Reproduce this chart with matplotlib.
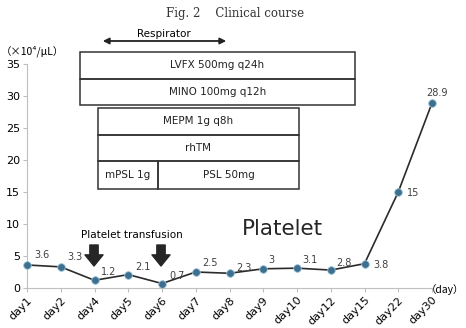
import matplotlib.pyplot as plt
from matplotlib.patches import Rectangle

days = ["day1", "day2", "day4", "day5", "day6", "day7", "day8", "day9",
        "day10", "day12", "day15", "day22", "day30"]
platelet = [3.6, 3.3, 1.2, 2.1, 0.7, 2.5, 2.3, 3, 3.1, 2.8, 3.8, 15, 28.9]
labels = ["3.6", "3.3", "1.2", "2.1", "0.7", "2.5", "2.3", "3", "3.1", "2.8", "3.8", "15", "28.9"]

fig = plt.figure(figsize=(4.66, 3.28), dpi=100)
ax = fig.add_axes([27 / 466, 40 / 328, 405 / 466, 224 / 328])
x = list(range(len(days)))
ax.plot(x, platelet, color="#2b2b2b", lw=1.2, marker="o", ms=5.5,
        mfc="#3d6f8f", mec="#9cc3d8", mew=0.6, zorder=3, clip_on=False)

offs = [(5, 5), (5, 5), (5, 4), (5, 3), (5, 3), (5, 4), (5, 2), (4, 4),
        (4, 4), (4, 3), (6, -3), (6, -3), (-4, 5)]
for i, (v, t) in enumerate(zip(platelet, labels)):
    ax.annotate(t, (i, v), xytext=offs[i], textcoords="offset points",
                fontsize=7, color="#404040")

ax.set_xlim(0, 12)
ax.set_ylim(0, 35)
ax.set_yticks(range(0, 36, 5))
ax.set_xticks(x)
ax.set_xticklabels(days, rotation=45, ha="right", rotation_mode="anchor", fontsize=8)
ax.tick_params(axis="y", labelsize=8, length=3, color="#bfbfbf", pad=2)
ax.tick_params(axis="x", length=3, color="#bfbfbf", pad=2)
for s in ["top", "right"]:
    ax.spines[s].set_visible(False)
for s in ["left", "bottom"]:
    ax.spines[s].set_color("#bfbfbf")

# px -> data helpers for annotations
def dx(px):
    return (px - 27) / 33.75

def dy(py):
    return (288 - py) / 6.4

def box(x0, x1, y0, y1, text):
    ax.add_patch(Rectangle((dx(x0), dy(y1)), dx(x1) - dx(x0), dy(y0) - dy(y1),
                           fill=False, ec="#333333", lw=1.1, clip_on=False))
    ax.text((dx(x0) + dx(x1)) / 2, (dy(y0) + dy(y1)) / 2, text, ha="center",
            va="center", fontsize=7.5, color="#222222")

box(80, 355, 52, 79, "LVFX 500mg q24h")
box(80, 355, 79, 105, "MINO 100mg q12h")
box(98, 299, 108, 135, "MEPM 1g q8h")
box(98, 299, 135, 161, "rhTM")
box(98, 158, 161, 189, "mPSL 1g")
box(158, 299, 161, 189, "PSL 50mg")

ax.annotate("", xy=(dx(100), dy(41)), xytext=(dx(229), dy(41)),
            arrowprops=dict(arrowstyle="<|-|>", color="#222222", lw=1.3,
                            mutation_scale=9), annotation_clip=False)
ax.text(dx(164), dy(34), "Respirator", ha="center", va="center", fontsize=7.5)

ax.text(dx(132), dy(235), "Platelet transfusion", ha="center", va="center", fontsize=7.5)
for px in [94, 161]:
    ax.annotate("", xy=(dx(px), dy(266)), xytext=(dx(px), dy(245)),
                arrowprops=dict(width=6, headwidth=13, headlength=8, color="#262626"))

ax.text(dx(282), dy(229), "Platelet", ha="center", va="center", fontsize=15.5, color="#262626")

cjk = ["Noto Sans CJK JP", "DejaVu Sans"]
fig.text(1 / 466, 1 - 51 / 328, "（×10⁴/μL）", fontsize=7.5, va="center", family=cjk)
fig.text(426 / 466, 1 - 290 / 328, "（day）", fontsize=7.5, va="center", family=cjk)
fig.text(235 / 466, 1 - 13 / 328, "Fig. 2    Clinical course", ha="center", va="center",
         fontsize=8.5, family="DejaVu Serif", color="#333333")

fig.savefig("out.png", dpi=100)
